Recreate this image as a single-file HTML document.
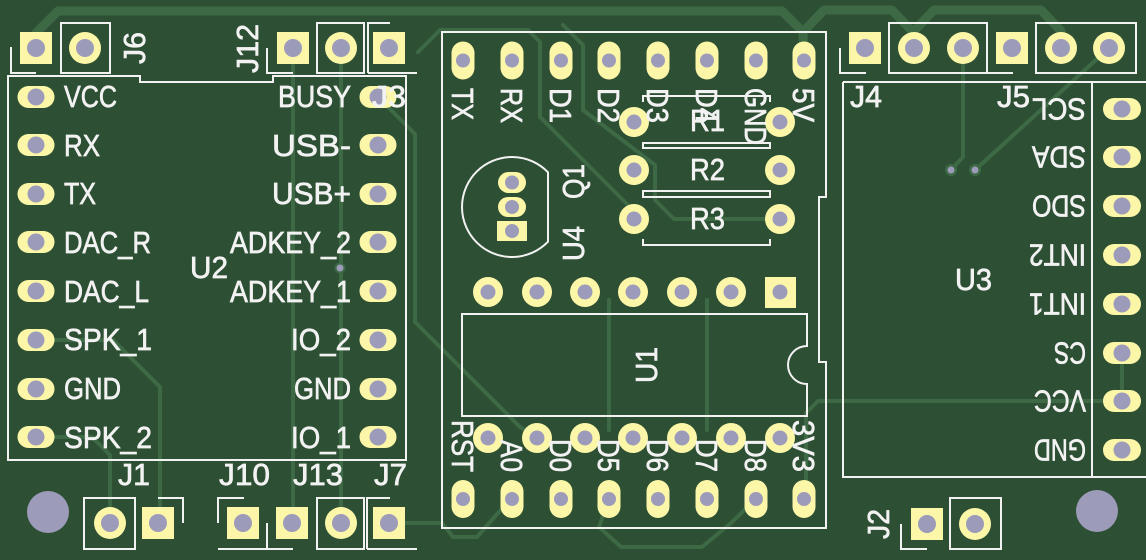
<!DOCTYPE html>
<html><head><meta charset="utf-8"><style>
html,body{margin:0;padding:0;background:#2d4f34;}
svg{display:block}
text{font-family:"Liberation Sans","DejaVu Sans",sans-serif;font-size:31px;fill:#f2f2f2;stroke:#f2f2f2;stroke-width:0.7px;}
</style></head><body>
<svg width="1146" height="560" viewBox="0 0 1146 560" xmlns="http://www.w3.org/2000/svg">
<rect width="1146" height="560" fill="#2d4f34"/>
<!-- traces -->
<g fill="none" stroke="#3d6a45" stroke-linecap="round" stroke-linejoin="round">
<g stroke-width="9">
<path d="M36,48 V33 L58,11 H782 L803,32 L804,60"/>
<path d="M803,32 L824,10 H892 L913,32 L914,48"/>
<path d="M913,32 L934,10 H1041 L1061,31 L1061,48"/>
</g>
<g stroke-width="4">
<path d="M963,48 V157 L951,170"/>
<path d="M975,170 L1109,48"/>
<path d="M1122,353 V401"/>
<path d="M1122,401 H818 L806,413 V499"/>
<path d="M36,340 H113 L160,387 V523"/>
<path d="M36,437 H92 L110,455 V523"/>
<path d="M293,48 V523"/>
<path d="M341,48 V523"/>
<path d="M378,97 L415,134 V322 L520,427 L537,438"/>
<path d="M389,523 H442 L453,537 H477 L498,513 L512,499"/>
<path d="M418,52 L440,30 H528 L540,42 V117 L634,211"/>
<path d="M563,25 L583,45 V110 L655,165 V200 L674,219 H780"/>
<path d="M609,300 V430"/>
<path d="M707,300 V430"/>
<path d="M609,499 L599,527 L621,547 H702 L731,523 L756,499"/>
</g>
</g>
<!-- silkscreen outlines -->
<g fill="none" stroke="#f2f2f2" stroke-width="2">
<path d="M8,76 H140 V82 H273 V76 H406 V460 H8 Z"/>
<rect x="61" y="23" width="49" height="50"/>
<path d="M11,47 V73 H36"/>
<path d="M267,48 V73 H293"/>
<rect x="317" y="23" width="47" height="50"/>
<path d="M368,73 V23 H390 M368,73 H417"/>
<path d="M840,48 V73 H866"/>
<rect x="889" y="23" width="98" height="50"/>
<path d="M987,48 V73 H1013"/>
<rect x="1036" y="23" width="100" height="50"/>
<path d="M843,82 H1146 M843,82 V477 H1146 M1092,82 V477"/>
<path d="M442,32 H826 V197 H819 V362 H826 V528 H442 Z"/>
<path d="M548,172.3 A50,50 0 1 0 548,241.7 Z"/>
<path d="M462,314 H807 V346 A19,19 0 0 0 807,384 V416 H462 Z"/>
<path d="M643,102 V96 H770 V102 M643,142 V148 H770 V142"/>
<path d="M643,149 V143 H770 V149 M643,191 V197 H770 V191"/>
<path d="M643,197 V191 H770 V197 M643,239 V245 H770 V239"/>
<rect x="84" y="498" width="51" height="51"/>
<path d="M158,498 H183 V523"/>
<path d="M218,523 V498 H244 M218,549 H293 M267,549 V523"/>
<rect x="317" y="498" width="47" height="51"/>
<path d="M367,549 V498 H390 M367,549 H417"/>
<rect x="950" y="498" width="51" height="51"/>
<path d="M901,524 V549 H927"/>
</g>
<!-- mounting holes -->
<circle cx="48" cy="512" r="21" fill="#9d9bba"/>
<circle cx="1097" cy="511" r="21" fill="#9d9bba"/>
<!-- pads -->
<g fill="#fcf7a8">
<rect x="17.5" y="86" width="37" height="22" rx="11"/>
<rect x="17.5" y="134" width="37" height="22" rx="11"/>
<rect x="17.5" y="183" width="37" height="22" rx="11"/>
<rect x="17.5" y="231" width="37" height="22" rx="11"/>
<rect x="17.5" y="280" width="37" height="22" rx="11"/>
<rect x="17.5" y="329" width="37" height="22" rx="11"/>
<rect x="17.5" y="378" width="37" height="22" rx="11"/>
<rect x="17.5" y="426" width="37" height="22" rx="11"/>
<rect x="359.5" y="86" width="37" height="22" rx="11"/>
<rect x="359.5" y="134" width="37" height="22" rx="11"/>
<rect x="359.5" y="183" width="37" height="22" rx="11"/>
<rect x="359.5" y="231" width="37" height="22" rx="11"/>
<rect x="359.5" y="280" width="37" height="22" rx="11"/>
<rect x="359.5" y="329" width="37" height="22" rx="11"/>
<rect x="359.5" y="378" width="37" height="22" rx="11"/>
<rect x="359.5" y="426" width="37" height="22" rx="11"/>
<rect x="1103" y="98" width="38" height="22" rx="11"/>
<rect x="1103" y="146" width="38" height="22" rx="11"/>
<rect x="1103" y="195" width="38" height="22" rx="11"/>
<rect x="1103" y="244" width="38" height="22" rx="11"/>
<rect x="1103" y="293" width="38" height="22" rx="11"/>
<rect x="1103" y="342" width="38" height="22" rx="11"/>
<rect x="1103" y="390" width="38" height="22" rx="11"/>
<rect x="1103" y="439" width="38" height="22" rx="11"/>
<rect x="451.5" y="41.5" width="23" height="38" rx="11.5"/>
<rect x="500.5" y="41.5" width="23" height="38" rx="11.5"/>
<rect x="549.5" y="41.5" width="23" height="38" rx="11.5"/>
<rect x="597.5" y="41.5" width="23" height="38" rx="11.5"/>
<rect x="646.5" y="41.5" width="23" height="38" rx="11.5"/>
<rect x="695.5" y="41.5" width="23" height="38" rx="11.5"/>
<rect x="744.5" y="41.5" width="23" height="38" rx="11.5"/>
<rect x="792.5" y="41.5" width="23" height="38" rx="11.5"/>
<rect x="451.5" y="480" width="23" height="38" rx="11.5"/>
<rect x="500.5" y="480" width="23" height="38" rx="11.5"/>
<rect x="549.5" y="480" width="23" height="38" rx="11.5"/>
<rect x="597.5" y="480" width="23" height="38" rx="11.5"/>
<rect x="646.5" y="480" width="23" height="38" rx="11.5"/>
<rect x="695.5" y="480" width="23" height="38" rx="11.5"/>
<rect x="744.5" y="480" width="23" height="38" rx="11.5"/>
<rect x="792.5" y="480" width="23" height="38" rx="11.5"/>
<circle cx="488" cy="292" r="15"/><circle cx="537" cy="292" r="15"/><circle cx="585" cy="292" r="15"/><circle cx="633" cy="292" r="15"/><circle cx="682" cy="292" r="15"/><circle cx="731" cy="292" r="15"/><rect x="765" y="277" width="31" height="31"/>
<circle cx="488" cy="438" r="15"/><circle cx="537" cy="438" r="15"/><circle cx="585" cy="438" r="15"/><circle cx="633" cy="438" r="15"/><circle cx="682" cy="438" r="15"/><circle cx="731" cy="438" r="15"/><circle cx="780" cy="438" r="15"/>
<circle cx="634" cy="122" r="15"/><circle cx="780" cy="122" r="15"/>
<circle cx="634" cy="170" r="15"/><circle cx="780" cy="170" r="15"/>
<circle cx="634" cy="219" r="15"/><circle cx="780" cy="219" r="15"/>
<rect x="498" y="172" width="28" height="21" rx="10.5"/>
<rect x="498" y="197" width="28" height="20" rx="10"/>
<rect x="497" y="221" width="30" height="20"/>
<rect x="20" y="32" width="32" height="32"/><circle cx="85" cy="48" r="16"/>
<rect x="277" y="32" width="32" height="32"/><circle cx="341" cy="48" r="16"/><rect x="373" y="32" width="32" height="32"/>
<rect x="849" y="32" width="32" height="32"/><circle cx="914" cy="48" r="16"/><circle cx="963" cy="48" r="16"/>
<rect x="996" y="32" width="32" height="32"/><circle cx="1061" cy="48" r="16"/><circle cx="1109" cy="48" r="16"/>
<circle cx="110" cy="523" r="16"/><rect x="142" y="507" width="32" height="32"/>
<rect x="227" y="507" width="32" height="32"/><rect x="276" y="507" width="32" height="32"/>
<circle cx="341" cy="523" r="16"/><rect x="373" y="507" width="32" height="32"/>
<rect x="911" y="508" width="32" height="32"/><circle cx="975" cy="524" r="16"/>
</g>
<!-- holes -->
<g fill="#9d9bba">
<circle cx="36" cy="97" r="8.5"/><circle cx="36" cy="145" r="8.5"/><circle cx="36" cy="194" r="8.5"/><circle cx="36" cy="242" r="8.5"/><circle cx="36" cy="291" r="8.5"/><circle cx="36" cy="340" r="8.5"/><circle cx="36" cy="389" r="8.5"/><circle cx="36" cy="437" r="8.5"/>
<circle cx="378" cy="97" r="8.5"/><circle cx="378" cy="145" r="8.5"/><circle cx="378" cy="194" r="8.5"/><circle cx="378" cy="242" r="8.5"/><circle cx="378" cy="291" r="8.5"/><circle cx="378" cy="340" r="8.5"/><circle cx="378" cy="389" r="8.5"/><circle cx="378" cy="437" r="8.5"/>
<circle cx="1122" cy="109" r="8.5"/><circle cx="1122" cy="157" r="8.5"/><circle cx="1122" cy="206" r="8.5"/><circle cx="1122" cy="255" r="8.5"/><circle cx="1122" cy="304" r="8.5"/><circle cx="1122" cy="353" r="8.5"/><circle cx="1122" cy="401" r="8.5"/><circle cx="1122" cy="450" r="8.5"/>
<circle cx="463" cy="60.5" r="7"/><circle cx="512" cy="60.5" r="7"/><circle cx="561" cy="60.5" r="7"/><circle cx="609" cy="60.5" r="7"/><circle cx="658" cy="60.5" r="7"/><circle cx="707" cy="60.5" r="7"/><circle cx="756" cy="60.5" r="7"/><circle cx="804" cy="60.5" r="7"/>
<circle cx="463" cy="499" r="7"/><circle cx="512" cy="499" r="7"/><circle cx="561" cy="499" r="7"/><circle cx="609" cy="499" r="7"/><circle cx="658" cy="499" r="7"/><circle cx="707" cy="499" r="7"/><circle cx="756" cy="499" r="7"/><circle cx="804" cy="499" r="7"/>
<circle cx="488" cy="292" r="7.5"/><circle cx="537" cy="292" r="7.5"/><circle cx="585" cy="292" r="7.5"/><circle cx="633" cy="292" r="7.5"/><circle cx="682" cy="292" r="7.5"/><circle cx="731" cy="292" r="7.5"/><circle cx="780" cy="292" r="7.5"/>
<circle cx="488" cy="438" r="7.5"/><circle cx="537" cy="438" r="7.5"/><circle cx="585" cy="438" r="7.5"/><circle cx="633" cy="438" r="7.5"/><circle cx="682" cy="438" r="7.5"/><circle cx="731" cy="438" r="7.5"/><circle cx="780" cy="438" r="7.5"/>
<circle cx="634" cy="122" r="7.5"/><circle cx="780" cy="122" r="7.5"/><circle cx="634" cy="170" r="7.5"/><circle cx="780" cy="170" r="7.5"/><circle cx="634" cy="219" r="7.5"/><circle cx="780" cy="219" r="7.5"/>
<circle cx="512" cy="182.5" r="7"/><circle cx="512" cy="207" r="7"/><circle cx="512" cy="231" r="7"/>
<circle cx="36" cy="48" r="9"/><circle cx="85" cy="48" r="9"/>
<circle cx="293" cy="48" r="9"/><circle cx="341" cy="48" r="9"/><circle cx="389" cy="48" r="9"/>
<circle cx="865" cy="48" r="9"/><circle cx="914" cy="48" r="9"/><circle cx="963" cy="48" r="9"/>
<circle cx="1012" cy="48" r="9"/><circle cx="1061" cy="48" r="9"/><circle cx="1109" cy="48" r="9"/>
<circle cx="110" cy="523" r="9"/><circle cx="158" cy="523" r="9"/>
<circle cx="243" cy="523" r="9"/><circle cx="292" cy="523" r="9"/>
<circle cx="341" cy="523" r="9"/><circle cx="389" cy="523" r="9"/>
<circle cx="927" cy="524" r="9"/><circle cx="975" cy="524" r="9"/>
</g>
<!-- vias -->
<circle cx="340" cy="268" r="5.5" fill="#3d6a45"/><circle cx="340" cy="268" r="3.5" fill="#9d9bba"/>
<circle cx="951" cy="170" r="6" fill="#3d6a45"/><circle cx="951" cy="170" r="3.5" fill="#9d9bba"/>
<circle cx="975" cy="170" r="6" fill="#3d6a45"/><circle cx="975" cy="170" r="3.5" fill="#9d9bba"/>
<!-- text -->
<g>
<text x="64" y="107" textLength="53" lengthAdjust="spacingAndGlyphs">VCC</text>
<text x="64" y="156" textLength="36" lengthAdjust="spacingAndGlyphs">RX</text>
<text x="64" y="204" textLength="32" lengthAdjust="spacingAndGlyphs">TX</text>
<text x="64" y="253" textLength="87" lengthAdjust="spacingAndGlyphs">DAC_R</text>
<text x="64" y="302" textLength="85" lengthAdjust="spacingAndGlyphs">DAC_L</text>
<text x="64" y="350" textLength="88" lengthAdjust="spacingAndGlyphs">SPK_1</text>
<text x="64" y="399" textLength="57" lengthAdjust="spacingAndGlyphs">GND</text>
<text x="64" y="448" textLength="88" lengthAdjust="spacingAndGlyphs">SPK_2</text>
<text x="278" y="107" textLength="73" lengthAdjust="spacingAndGlyphs">BUSY</text>
<text x="272" y="156" textLength="79" lengthAdjust="spacingAndGlyphs">USB-</text>
<text x="272" y="204" textLength="79" lengthAdjust="spacingAndGlyphs">USB+</text>
<text x="230" y="253" textLength="121" lengthAdjust="spacingAndGlyphs">ADKEY_2</text>
<text x="230" y="302" textLength="121" lengthAdjust="spacingAndGlyphs">ADKEY_1</text>
<text x="291" y="350" textLength="60" lengthAdjust="spacingAndGlyphs">IO_2</text>
<text x="294" y="399" textLength="57" lengthAdjust="spacingAndGlyphs">GND</text>
<text x="291" y="448" textLength="60" lengthAdjust="spacingAndGlyphs">IO_1</text>
<text x="372" y="107" textLength="34" lengthAdjust="spacingAndGlyphs">J3</text>
<text x="190" y="278" textLength="38" lengthAdjust="spacingAndGlyphs">U2</text>
<text x="118" y="485" textLength="32" lengthAdjust="spacingAndGlyphs">J1</text>
<text x="219" y="485" textLength="51" lengthAdjust="spacingAndGlyphs">J10</text>
<text x="293" y="485" textLength="50" lengthAdjust="spacingAndGlyphs">J13</text>
<text x="374" y="485" textLength="33" lengthAdjust="spacingAndGlyphs">J7</text>
<text x="850" y="107" textLength="32" lengthAdjust="spacingAndGlyphs">J4</text>
<text x="997" y="107" textLength="33" lengthAdjust="spacingAndGlyphs">J5</text>
<text x="955" y="290" textLength="37" lengthAdjust="spacingAndGlyphs">U3</text>
<text x="690" y="131" textLength="35" lengthAdjust="spacingAndGlyphs">R1</text>
<text x="690" y="180" textLength="35" lengthAdjust="spacingAndGlyphs">R2</text>
<text x="690" y="229" textLength="35" lengthAdjust="spacingAndGlyphs">R3</text>
<text transform="translate(1086,98.5) rotate(180)" textLength="54" lengthAdjust="spacingAndGlyphs">SCL</text>
<text transform="translate(1086,146.5) rotate(180)" textLength="54" lengthAdjust="spacingAndGlyphs">SDA</text>
<text transform="translate(1086,195.5) rotate(180)" textLength="54" lengthAdjust="spacingAndGlyphs">SDO</text>
<text transform="translate(1086,244.5) rotate(180)" textLength="57" lengthAdjust="spacingAndGlyphs">INT2</text>
<text transform="translate(1086,293.5) rotate(180)" textLength="57" lengthAdjust="spacingAndGlyphs">INT1</text>
<text transform="translate(1086,342.5) rotate(180)" textLength="32" lengthAdjust="spacingAndGlyphs">CS</text>
<text transform="translate(1086,390.5) rotate(180)" textLength="52" lengthAdjust="spacingAndGlyphs">VCC</text>
<text transform="translate(1086,439.5) rotate(180)" textLength="52" lengthAdjust="spacingAndGlyphs">GND</text>
<text transform="translate(452,88) rotate(90)" textLength="32" lengthAdjust="spacingAndGlyphs">TX</text>
<text transform="translate(501,88) rotate(90)" textLength="35" lengthAdjust="spacingAndGlyphs">RX</text>
<text transform="translate(550,88) rotate(90)" textLength="35" lengthAdjust="spacingAndGlyphs">D1</text>
<text transform="translate(598,88) rotate(90)" textLength="35" lengthAdjust="spacingAndGlyphs">D2</text>
<text transform="translate(647,88) rotate(90)" textLength="35" lengthAdjust="spacingAndGlyphs">D3</text>
<text transform="translate(696,88) rotate(90)" textLength="35" lengthAdjust="spacingAndGlyphs">D4</text>
<text transform="translate(745,88) rotate(90)" textLength="57" lengthAdjust="spacingAndGlyphs">GND</text>
<text transform="translate(793,88) rotate(90)" textLength="34" lengthAdjust="spacingAndGlyphs">5V</text>
<text transform="translate(452,420) rotate(90)" textLength="52" lengthAdjust="spacingAndGlyphs">RST</text>
<text transform="translate(501,440) rotate(90)" textLength="32" lengthAdjust="spacingAndGlyphs">A0</text>
<text transform="translate(550,439) rotate(90)" textLength="33" lengthAdjust="spacingAndGlyphs">D0</text>
<text transform="translate(598,439) rotate(90)" textLength="33" lengthAdjust="spacingAndGlyphs">D5</text>
<text transform="translate(647,439) rotate(90)" textLength="33" lengthAdjust="spacingAndGlyphs">D6</text>
<text transform="translate(696,439) rotate(90)" textLength="33" lengthAdjust="spacingAndGlyphs">D7</text>
<text transform="translate(745,439) rotate(90)" textLength="33" lengthAdjust="spacingAndGlyphs">D8</text>
<text transform="translate(793,420) rotate(90)" textLength="52" lengthAdjust="spacingAndGlyphs">3V3</text>
<text transform="translate(584,199) rotate(-90)" textLength="35" lengthAdjust="spacingAndGlyphs">Q1</text>
<text transform="translate(584,261) rotate(-90)" textLength="35" lengthAdjust="spacingAndGlyphs">U4</text>
<text transform="translate(657,383) rotate(-90)" textLength="36" lengthAdjust="spacingAndGlyphs">U1</text>
<text transform="translate(145,64) rotate(-90)" textLength="32" lengthAdjust="spacingAndGlyphs">J6</text>
<text transform="translate(258,73) rotate(-90)" textLength="49" lengthAdjust="spacingAndGlyphs">J12</text>
<text transform="translate(889,539) rotate(-90)" textLength="30" lengthAdjust="spacingAndGlyphs">J2</text>
</g>
</svg>
</body></html>
